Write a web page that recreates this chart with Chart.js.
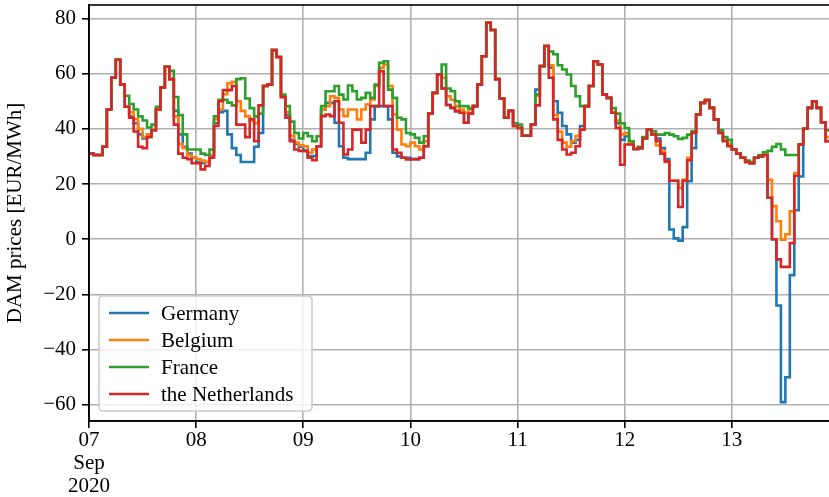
<!DOCTYPE html>
<html>
<head>
<meta charset="utf-8">
<script src="https://cdn.jsdelivr.net/npm/chart.js@4.4.1/dist/chart.umd.min.js"></script>
<style>
  html, body { margin: 0; padding: 0; background: #ffffff; overflow: hidden; }
  #wrap { width: 829px; height: 497px; overflow: hidden; }
  canvas { display: block; }
</style>
</head>
<body>
<div id="wrap"><canvas id="c" width="831" height="497"></canvas></div>
<script>
// Hourly day-ahead prices, 7–13 September 2020 (hour 0 = 07 Sep 00:00)
const countries = ['Germany', 'Belgium', 'France', 'the Netherlands'];
const colors = ['#1f77b4', '#ff7f0e', '#2ca02c', '#d62728'];
const dayLabels = ['07', '08', '09', '10', '11', '12', '13'];
const dayTicks = [0, 24, 48, 72, 96, 120, 144];
const firstTickExtra = ['Sep', '2020'];
const yTicks = [-60, -40, -20, 0, 20, 40, 60, 80];

const germany = [
  31, 30.5, 30.5, 33.5, 47, 58.5, 65, 56, 48, 44.5, 42, 38, 36.5, 38, 39.5, 47, 55, 62.5, 58, 46.5, 38, 33.5, 31, 29.5,
  28, 27.5, 28, 30, 42, 46, 46.5, 38, 33, 30.5, 28, 28, 28, 33.5, 38.5, 55.5, 56, 68.5, 66, 51.5, 45, 36, 34.5, 33.5,
  32, 30.1, 30.1, 33.7, 47, 49.4, 49.4, 42.2, 33.7, 29.5, 29, 29, 29, 29, 31.3, 43.4, 48.2, 48.2, 48.2, 43.4, 31.3, 30, 29.5, 29.5,
  29, 29, 29.5, 33.7, 45.5, 53, 59.7, 54.6, 48.6, 47.6, 46.4, 45.8, 42.2, 45.5, 48.2, 56, 66.3, 78.4, 75.8, 58, 51, 44, 46.5, 41,
  40.3, 37.5, 37.5, 41.5, 54.2, 62.7, 70, 62.1, 50, 45.8, 41, 38, 35, 36, 41, 48.2, 55.5, 64.5, 63.3, 52.4, 51.2, 45.8, 42, 36,
  37.3, 34.5, 32.7, 33, 36.5, 39.7, 38, 36.5, 33, 29, 3.5, 0.3, -0.5, 4.4, 21, 33, 45.2, 49.4, 50.4, 47.6, 43.4, 38.5, 36, 34.5,
  32.5, 31, 29.5, 28, 27.5, 29.5, 30, 30.5, 15, 0, -24, -59, -50, -13, 10.5, 22.7, 40, 47.6, 50, 47.6, 42.4, 35.5, 35.5
];

const belgium = [
  31, 30.5, 30.5, 33.5, 47, 58.5, 65, 56, 48, 46, 43.5, 40, 37, 38, 39.5, 47, 55, 62.5, 58, 44.5, 34.5, 33, 30.5, 29.5,
  29, 28.5, 28, 30.5, 43.5, 47, 52.5, 56.5, 57, 50, 46.5, 44.5, 43, 42, 48.5, 55.5, 56, 68.5, 66, 51.5, 46, 37.5, 35, 34,
  33.7, 31.3, 32.5, 33.7, 47, 48.2, 51.8, 51.2, 47, 44.6, 47, 47, 43.4, 47, 48.8, 50.6, 55.5, 62.1, 63.3, 55.5, 45.2, 39.7, 34.3, 33.7,
  35, 33.7, 32.5, 35.5, 45.5, 53, 59.7, 58.5, 51.8, 50.5, 48.2, 47, 45.8, 47, 48.2, 56, 66.3, 78.4, 75.8, 58, 51, 44, 46.5, 41,
  40.3, 37.5, 37.5, 41.5, 52, 62.7, 70, 63, 45, 39, 35, 33.5, 35.5, 37.5, 39.7, 48.2, 55.5, 64.5, 63.3, 52.4, 51.2, 46, 43, 38,
  38.5, 35, 32.7, 33, 36.5, 39.7, 38, 34, 32, 28, 21.2, 21.2, 18.6, 21.6, 29.5, 39, 45.2, 49.4, 50.4, 47.6, 43.4, 39, 36, 34.5,
  32.5, 31, 29.5, 28, 27.5, 29.5, 30, 30.5, 21.5, 12, 6.5, -0.2, 1.8, 10.1, 24, 34.3, 40, 47.6, 50, 47.6, 42.4, 37, 37
];

const france = [
  31, 30.5, 30.5, 33.5, 47, 58.5, 65, 56, 52, 49, 47, 44.5, 43, 40.5, 41.5, 48, 55, 62.5, 61, 51.5, 45, 38, 32.5, 32.5,
  32.5, 31, 30.5, 32.5, 44.5, 50.5, 50.5, 49.5, 48.5, 58, 58.3, 51, 47.5, 44.5, 45.5, 55.5, 56, 68.5, 66, 52.4, 48.2, 42.6, 38.5, 36.5,
  38.5, 37.3, 35.5, 37.3, 48.2, 53.6, 53.6, 55.5, 52.4, 50.6, 55.7, 53.6, 50.6, 51.2, 53, 51.2, 56, 63.9, 64.5, 54.2, 51.2, 44, 43.4, 38.5,
  38, 36.7, 35, 37.3, 45.5, 53, 59.7, 63.3, 54.6, 53.6, 50, 48.2, 48.2, 47.5, 48.2, 56, 66.3, 78.4, 75.8, 58, 51, 44, 46.5, 42,
  41.5, 37.5, 37.5, 41.5, 52.4, 62.7, 70, 68, 67, 63, 61.5, 59.7, 55.5, 51.8, 48.2, 48.2, 55.5, 64.5, 63.3, 52.4, 51.2, 47.5, 45.5, 42,
  40.3, 35.5, 32.7, 33.5, 37, 39.7, 39.1, 37.9, 37.9, 38.5, 37.9, 37.3, 36.3, 36.7, 37.9, 39.1, 45.2, 49.4, 50.4, 47.6, 43.4, 39.5, 37, 36,
  32.5, 31, 29.5, 28.5, 28, 29.5, 30.5, 31.5, 32, 33.5, 34.5, 32.5, 30.5, 30.5, 30.5, 34.3, 40, 47.6, 50, 47.6, 42.4, 39.5, 39.5
];

const netherlands = [
  31, 30.5, 30.5, 33.5, 47, 58.5, 65, 56, 48, 44, 39, 33.5, 33, 37, 39.5, 47, 55, 62.5, 58, 41.5, 31, 29.5, 29, 27.5,
  27.5, 25.3, 26.5, 29.5, 41, 50, 54, 54, 55.5, 41.5, 41.5, 37, 43.5, 35.5, 48.5, 55.5, 56, 68.5, 66, 51.5, 44, 35.5, 32.5, 32,
  32, 29.5, 28.6, 33.7, 44.6, 45.2, 44.6, 50, 42.2, 30.7, 32.5, 39.7, 39.7, 35, 39.7, 48.2, 48.2, 60.9, 48.2, 48.2, 32.5, 31.3, 29.5, 28.9,
  29, 29, 29.5, 33.7, 45.5, 53, 59.7, 54.6, 48.6, 47.6, 46.4, 45.8, 42.2, 45.5, 48.2, 56, 66.3, 78.4, 75.8, 58, 51, 44, 46.5, 41,
  40.3, 37.5, 37.5, 41.5, 48.5, 62.7, 70, 58.5, 43.4, 36, 32.5, 30.7, 31.3, 33.7, 39.7, 48.2, 55.5, 64.5, 63.3, 52.4, 51.2, 45.8, 40.3, 27,
  34.3, 34.3, 32.7, 33, 36.5, 39.7, 38, 35.5, 31, 28.2, 21.2, 21.2, 11.7, 21.2, 28.6, 38.5, 45.2, 49.4, 50.4, 47.6, 43.4, 38.5, 35.5, 33.7,
  32.5, 31, 29.5, 28, 27.5, 29.5, 30, 30.5, 15, 0, -7.3, -10, -10, -1.4, 23, 34.3, 40, 47.6, 50, 47.6, 42.4, 35.5, 35.5
];

const seriesValues = [germany, belgium, france, netherlands];

const FONT = '"Liberation Serif", "Times New Roman", serif';
const FONT_SIZE = 21;
Chart.defaults.color = '#000000';
Chart.defaults.font.family = FONT;
Chart.defaults.font.size = FONT_SIZE;

const fmt = v => (v < 0 ? '\u2212' + Math.abs(v) : String(v));

// Frame around the plot area and a legend box in its lower-left corner
const frameAndLegend = {
  id: 'frameAndLegend',
  afterDraw(chart) {
    const ctx = chart.ctx;
    const a = chart.chartArea;
    ctx.save();
    ctx.strokeStyle = '#000000';
    ctx.lineWidth = 1.6;
    ctx.strokeRect(a.left, a.top, a.right - a.left, a.bottom - a.top);

    const pad = 10, w = 213, h = 115;
    const x0 = a.left + pad, y0 = a.bottom - pad - h;
    ctx.beginPath();
    ctx.roundRect(x0, y0, w, h, 4);
    ctx.fillStyle = 'rgba(255,255,255,0.8)';
    ctx.fill();
    ctx.lineWidth = 1.6;
    ctx.strokeStyle = '#cccccc';
    ctx.stroke();

    ctx.font = FONT_SIZE + 'px ' + FONT;
    ctx.textBaseline = 'middle';
    ctx.textAlign = 'left';
    chart.data.datasets.forEach((ds, i) => {
      const yy = y0 + 17 + i * 27;
      ctx.beginPath();
      ctx.moveTo(x0 + 10, yy);
      ctx.lineTo(x0 + 50, yy);
      ctx.strokeStyle = ds.borderColor;
      ctx.lineWidth = 2.6;
      ctx.stroke();
      ctx.fillStyle = '#000000';
      ctx.fillText(ds.label, x0 + 62, yy + 1);
    });
    ctx.restore();
  }
};

const datasets = countries.map((name, i) => ({
  label: name,
  data: seriesValues[i].map((v, h) => ({ x: h, y: v })),
  borderColor: colors[i],
  backgroundColor: colors[i],
  borderWidth: 2.6,
  pointRadius: 0,
  stepped: 'before',
  fill: false,
  order: countries.length - 1 - i
}));

new Chart(document.getElementById('c'), {
  type: 'line',
  data: { datasets },
  plugins: [frameAndLegend],
  options: {
    responsive: false,
    animation: false,
    devicePixelRatio: 1,
    layout: { padding: { top: 5, right: 1, left: 0, bottom: 0 } },
    plugins: { legend: { display: false }, tooltip: { enabled: false } },
    scales: {
      x: {
        type: 'linear',
        min: 0,
        max: 166,
        afterBuildTicks: s => { s.ticks = dayTicks.map(v => ({ value: v })); },
        afterFit: s => { s.height = 76; s.paddingLeft = 0; s.paddingRight = 0; },
        grid: { color: '#b0b0b0', lineWidth: 1.6, tickColor: '#000000', tickLength: 7, tickWidth: 1.6 },
        border: { color: '#000000', width: 1.6 },
        ticks: {
          autoSkip: false,
          maxRotation: 0,
          padding: 1,
          font: { size: FONT_SIZE, lineHeight: 1.1 },
          callback: v => {
            const i = dayTicks.indexOf(v);
            if (i < 0) return '';
            return i === 0 ? [dayLabels[0], ...firstTickExtra] : dayLabels[i];
          }
        }
      },
      y: {
        type: 'linear',
        min: -65.85,
        max: 84.85,
        afterBuildTicks: s => { s.ticks = yTicks.map(v => ({ value: v })); },
        afterFit: s => { s.width = 89; s.paddingTop = 0; s.paddingBottom = 0; },
        grid: { color: '#b0b0b0', lineWidth: 1.6, tickColor: '#000000', tickLength: 7, tickWidth: 1.6 },
        border: { color: '#000000', width: 1.6 },
        ticks: { padding: 6, callback: v => fmt(v) },
        title: {
          display: true,
          text: 'DAM prices [EUR/MWh]',
          font: { size: FONT_SIZE },
          padding: { top: 3, bottom: 0 }
        }
      }
    }
  }
});
</script>
</body>
</html>
